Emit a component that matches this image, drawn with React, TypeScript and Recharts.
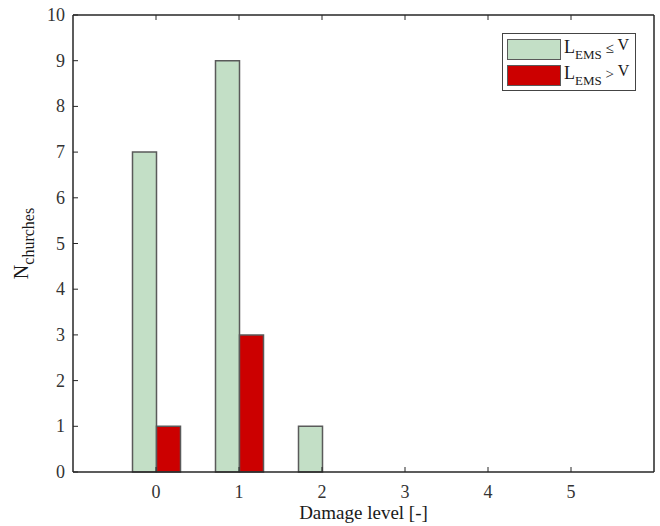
import { Bar, BarChart, Label, Legend, XAxis, YAxis } from "recharts";

const levels = [0, 1, 2, 3, 4, 5];
const belowV = [7, 9, 1, 0, 0, 0];
const aboveV = [1, 3, 0, 0, 0, 0];
const yTicks = [0, 1, 2, 3, 4, 5, 6, 7, 8, 9, 10];

const GREEN = "#c3dfc6";
const RED = "#cc0000";
const EDGE = "#5a5a5a";
const AXIS = "#262626";
const FONT = "'Liberation Serif', 'Times New Roman', serif";
const TICK_LEN = 5;

const data = levels.map((level, i) => ({
  level,
  below: belowV[i],
  above: aboveV[i],
}));

type TickProps = { x?: number; y?: number; payload?: { value: number } };

const BottomTick = ({ x = 0, y = 0, payload }: TickProps) => (
  <g>
    <line x1={x} y1={y} x2={x} y2={y - TICK_LEN} stroke={AXIS} strokeWidth={1} />
    <text x={x} y={y + 20} textAnchor="middle" dominantBaseline="central" fill="#333" fontSize={18} fontFamily={FONT}>
      {payload?.value}
    </text>
  </g>
);

const LeftTick = ({ x = 0, y = 0, payload }: TickProps) => (
  <g>
    <line x1={x} y1={y} x2={x + TICK_LEN} y2={y} stroke={AXIS} strokeWidth={1} />
    <text x={x - 8} y={y} textAnchor="end" dominantBaseline="central" fill="#333" fontSize={18} fontFamily={FONT}>
      {payload?.value}
    </text>
  </g>
);

const TopTick = ({ x = 0, y = 0 }: TickProps) => (
  <line x1={x} y1={y} x2={x} y2={y + TICK_LEN} stroke={AXIS} strokeWidth={1} />
);

const RightTick = ({ x = 0, y = 0 }: TickProps) => (
  <line x1={x} y1={y} x2={x - TICK_LEN} y2={y} stroke={AXIS} strokeWidth={1} />
);

const legendRow = (color: string, relation: string) => (
  <div style={{ display: "flex", alignItems: "center", height: 26 }}>
    <div
      style={{
        width: 52,
        height: 19,
        background: color,
        border: `1.5px solid ${EDGE}`,
        marginRight: 3,
      }}
    />
    <span style={{ fontFamily: FONT, fontSize: 18, color: "#1a1a1a", whiteSpace: "nowrap" }}>
      L
      <sub style={{ fontSize: 13, verticalAlign: "-6px" }}>EMS</sub>
      <span style={{ fontSize: 15 }}> {relation} </span>
      <span style={{ fontSize: 16, verticalAlign: "3px" }}>V</span>
    </span>
  </div>
);

const LegendBox = () => (
  <div
    style={{
      border: "1px solid #444",
      background: "#fff",
      padding: "2px 4px",
      width: 124,
    }}
  >
    {legendRow(GREEN, "\u2264")}
    {legendRow(RED, ">")}
  </div>
);

const YTitle = ({ viewBox }: { viewBox?: { x: number; y: number; width: number; height: number } }) => {
  const vb = viewBox ?? { x: 0, y: 0, width: 0, height: 0 };
  const cx = vb.x + 28;
  const cy = vb.y + vb.height / 2;
  return (
    <text
      x={cx}
      y={cy}
      transform={`rotate(-90, ${cx}, ${cy})`}
      textAnchor="middle"
      fill="#1a1a1a"
      fontFamily={FONT}
      fontSize={20}
    >
      N
      <tspan fontSize={16} dy={6}>
        churches
      </tspan>
    </text>
  );
};

export default function App() {
  return (
    <div style={{ position: "absolute", left: 0, top: 0, background: "#fff" }}>
      <BarChart
        width={660}
        height={526}
        data={data}
        margin={{ top: 15, right: 6, bottom: 0, left: 0 }}
        barGap={0}
        barSize={24}
      >
        <XAxis
          dataKey="level"
          height={54}
          padding={{ left: 41.5, right: 41.5 }}
          tickSize={0}
          tickMargin={0}
          tick={<BottomTick />}
          axisLine={{ stroke: AXIS, strokeWidth: 1.5 }}
          interval={0}
        >
          <Label
            value="Damage level [-]"
            position="insideBottom"
            offset={7}
            fill="#1a1a1a"
            fontSize={19}
            fontFamily={FONT}
          />
        </XAxis>
        <XAxis
          xAxisId="top"
          dataKey="level"
          orientation="top"
          mirror
          padding={{ left: 41.5, right: 41.5 }}
          tickSize={0}
          tickMargin={0}
          tick={<TopTick />}
          axisLine={{ stroke: AXIS, strokeWidth: 1.5 }}
          interval={0}
        />
        <YAxis
          width={73}
          domain={[0, 10]}
          ticks={yTicks}
          interval={0}
          tickSize={0}
          tickMargin={0}
          tick={<LeftTick />}
          axisLine={{ stroke: AXIS, strokeWidth: 1.5 }}
        >
          <Label content={<YTitle />} />
        </YAxis>
        <YAxis
          yAxisId="right"
          orientation="right"
          mirror
          domain={[0, 10]}
          ticks={yTicks}
          interval={0}
          tickSize={0}
          tickMargin={0}
          tick={<RightTick />}
          axisLine={{ stroke: AXIS, strokeWidth: 1.5 }}
        />
        <Legend
          layout="vertical"
          align="center"
          verticalAlign="middle"
          content={<LegendBox />}
          wrapperStyle={{ left: 502, top: 33, width: 134, height: "auto" }}
        />
        <Bar dataKey="below" fill={GREEN} stroke={EDGE} strokeWidth={1.5} isAnimationActive={false} />
        <Bar dataKey="above" fill={RED} stroke={EDGE} strokeWidth={1.5} isAnimationActive={false} />
      </BarChart>
    </div>
  );
}
